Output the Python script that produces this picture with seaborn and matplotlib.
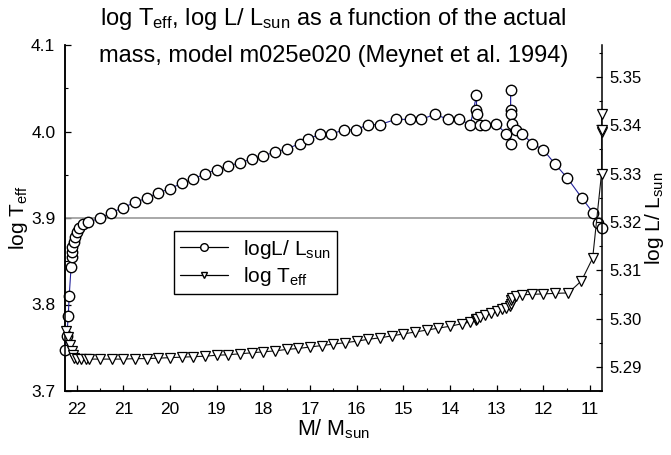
import numpy as np
import pandas as pd
import seaborn as sns
import matplotlib.pyplot as plt
from matplotlib.lines import Line2D
from matplotlib.ticker import MultipleLocator

# actual mass (M/Msun) and the two tracks
mass_circ = [22.25, 22.21, 22.18, 22.16, 22.12, 22.11, 22.10, 22.09, 22.06, 22.03,
             22.00, 21.94, 21.86, 21.75, 21.50, 21.26, 21.01, 20.75, 20.50, 20.25,
             20.00, 19.75, 19.50, 19.25, 19.00, 18.75, 18.50, 18.25, 18.00, 17.75,
             17.50, 17.21, 17.04, 16.79, 16.54, 16.27, 16.02, 15.75, 15.50, 15.16,
             14.86, 14.61, 14.32, 14.04, 13.80, 13.56, 13.43, 13.43, 13.41, 13.36,
             13.24, 13.01, 12.79, 12.70, 12.70, 12.70, 12.69, 12.66, 12.59, 12.45,
             12.23, 12.00, 11.74, 11.48, 11.17, 10.93, 10.82, 10.75]
val_circ = [3.747, 3.764, 3.787, 3.810, 3.843, 3.855, 3.861, 3.866, 3.872, 3.878,
            3.884, 3.889, 3.893, 3.895, 3.900, 3.906, 3.912, 3.918, 3.923, 3.929,
            3.934, 3.940, 3.945, 3.951, 3.956, 3.960, 3.964, 3.968, 3.972, 3.976,
            3.980, 3.986, 3.991, 3.997, 3.997, 4.002, 4.002, 4.008, 4.008, 4.014,
            4.014, 4.014, 4.020, 4.014, 4.014, 4.008, 4.042, 4.025, 4.020, 4.008,
            4.008, 4.009, 3.997, 3.986, 4.048, 4.025, 4.020, 4.009, 4.002, 3.997,
            3.986, 3.979, 3.962, 3.946, 3.923, 3.906, 3.894, 3.889]

mass_tri = [22.22, 22.19, 22.15, 22.11, 22.08, 22.05, 22.00, 21.91, 21.80, 21.73,
            21.50, 21.25, 21.00, 20.75, 20.50, 20.25, 20.00, 19.75, 19.50, 19.25,
            19.00, 18.75, 18.50, 18.25, 18.00, 17.75, 17.50, 17.25, 17.00, 16.75,
            16.50, 16.25, 16.00, 15.75, 15.50, 15.25, 15.00, 14.75, 14.50, 14.25,
            14.00, 13.75, 13.56, 13.45, 13.43, 13.42, 13.36, 13.24, 13.12, 13.00,
            12.88, 12.79, 12.72, 12.70, 12.69, 12.66, 12.58, 12.46, 12.23, 12.00,
            11.75, 11.46, 11.18, 10.94, 10.75, 10.75, 10.75, 10.75]
val_tri = [5.2975, 5.2962, 5.2945, 5.2932, 5.2924, 5.2919, 5.2917, 5.2916, 5.2916, 5.2916,
           5.2916, 5.2916, 5.2916, 5.2917, 5.2917, 5.2918, 5.2919, 5.2920, 5.2921, 5.2922,
           5.2924, 5.2925, 5.2927, 5.2929, 5.2931, 5.2933, 5.2936, 5.2938, 5.2941, 5.2944,
           5.2947, 5.2950, 5.2953, 5.2957, 5.2960, 5.2964, 5.2968, 5.2972, 5.2976, 5.2980,
           5.2984, 5.2989, 5.2993, 5.2996, 5.2998, 5.3000, 5.3003, 5.3007, 5.3011, 5.3015,
           5.3019, 5.3022, 5.3025, 5.3030, 5.3038, 5.3042, 5.3046, 5.3049, 5.3050, 5.3051,
           5.3052, 5.3053, 5.3078, 5.3125, 5.3300, 5.3385, 5.3390, 5.3424]

sns.set_style('ticks')
plt.rcParams['font.family'] = ['Liberation Sans', 'DejaVu Sans']
plt.rcParams['mathtext.fontset'] = 'custom'
plt.rcParams['mathtext.rm'] = 'Liberation Sans'
plt.rcParams['mathtext.it'] = 'Liberation Sans:italic'
plt.rcParams['xtick.direction'] = 'in'
plt.rcParams['ytick.direction'] = 'in'
# plain black text and axes instead of seaborn's dark grey
for k in ['text.color', 'axes.labelcolor', 'xtick.color', 'ytick.color', 'axes.edgecolor']:
    plt.rcParams[k] = 'black'

fig = plt.figure(figsize=(6.71, 4.55), dpi=100)
ax = fig.add_axes([65/671, 1 - 391/455, 537/671, 346/455])
ax2 = ax.twinx()

df_c = pd.DataFrame({'mass': mass_circ, 'val': val_circ})
df_t = pd.DataFrame({'mass': mass_tri, 'val': val_tri})

ax.axhline(3.9, color='#9a9a9a', lw=1.2, zorder=1)
sns.lineplot(data=df_c, x='mass', y='val', ax=ax, sort=False, estimator=None,
             color='#22229a', lw=0.8, marker='o', markersize=7.5,
             markerfacecolor='white', markeredgecolor='black', markeredgewidth=1.0,
             clip_on=False, zorder=3)
sns.lineplot(data=df_t, x='mass', y='val', ax=ax2, sort=False, estimator=None,
             color='#111111', lw=0.8, marker='v', markersize=6.5,
             markerfacecolor='white', markeredgecolor='black', markeredgewidth=0.9,
             clip_on=False, zorder=3)

ax.set_xlim(22.25, 10.74)
ax.set_ylim(3.7, 4.1)
ax2.set_ylim(5.2850, 5.3566)

ax.xaxis.set_major_locator(MultipleLocator(1))
ax.xaxis.set_minor_locator(MultipleLocator(0.5))
ax.yaxis.set_major_locator(MultipleLocator(0.1))
ax.yaxis.set_minor_locator(MultipleLocator(0.05))
ax2.yaxis.set_major_locator(MultipleLocator(0.01))
ax2.yaxis.set_minor_locator(MultipleLocator(0.005))
ax.yaxis.set_major_formatter(plt.FormatStrFormatter('%.1f'))
ax2.yaxis.set_major_formatter(plt.FormatStrFormatter('%.2f'))

for a in (ax, ax2):
    a.spines['top'].set_visible(False)
    for s in a.spines.values():
        s.set_linewidth(1.1)
        s.set_color('black')
    a.tick_params(which='major', length=4.5, width=0.9, labelsize=12.5, colors='black')
    a.tick_params(which='minor', length=2.5, width=0.8, colors='black')
ax.tick_params(axis='x', pad=8)
ax.tick_params(axis='y', pad=7)
ax2.tick_params(axis='y', pad=5, labelsize=12)
ax.spines['right'].set_visible(False)

ax.set_xlabel(r'M/ M$_{\rm sun}$', fontsize=15.5, labelpad=0)
ax.set_ylabel(r'log T$_{\rm eff}$', fontsize=15, labelpad=1)
ax2.set_ylabel(r'log L/ L$_{\rm sun}$', fontsize=15, labelpad=1)

# two-line title, one text per line
cx = (65 + 602) / 2 / 671
fig.text(cx, 1 - 25/455, r'log T$_{\rm eff}$, log L/ L$_{\rm sun}$ as a function of the actual',
         ha='center', va='baseline', fontsize=17)
fig.text(cx, 1 - 62/455, 'mass, model m025e020 (Meynet et al. 1994)',
         ha='center', va='baseline', fontsize=17)

handles = [Line2D([], [], color='black', lw=0.9, marker='o', markersize=5.5,
                  markerfacecolor='white', markeredgecolor='black'),
           Line2D([], [], color='black', lw=0.9, marker='v', markersize=5,
                  markerfacecolor='white', markeredgecolor='black')]
leg = ax2.legend(handles, [r'logL/ L$_{\rm sun}$', r'log T$_{\rm eff}$'],
                 loc='lower left', bbox_to_anchor=(0.203, 0.28), borderaxespad=0,
                 fontsize=15, handlelength=2.3, handletextpad=0.7, frameon=True,
                 fancybox=False, edgecolor='black', framealpha=1, borderpad=0.3,
                 labelspacing=0.2)
leg.get_frame().set_linewidth(1.0)

fig.savefig('out.png', dpi=100)
